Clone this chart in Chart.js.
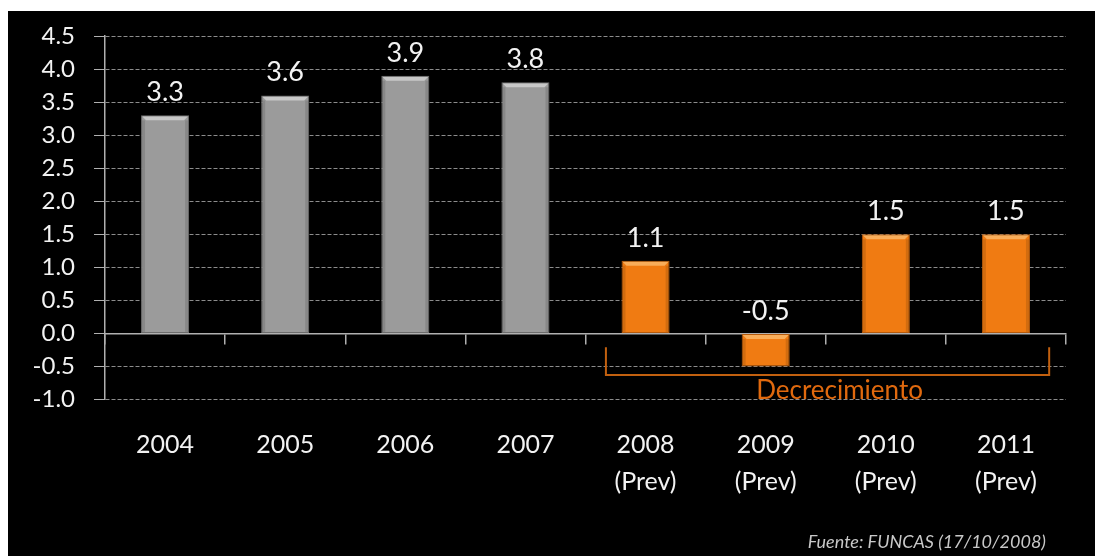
<!DOCTYPE html>
<html><head><meta charset="utf-8">
<script src="https://cdn.jsdelivr.net/npm/chart.js@4"></script>
<style>
html,body{margin:0;padding:0;background:#fff;width:1095px;height:556px;overflow:hidden}
#wrap{position:absolute;left:8px;top:11px;width:1087px;height:545px;background:#000}
#c{position:absolute;left:0;top:0}
#src{position:absolute;right:49px;top:520px;font:italic 18px Lato,sans-serif;line-height:20px;color:#c8c8c8;white-space:nowrap}
</style>
</head><body>
<div id="wrap"><canvas id="c" width="1087" height="545"></canvas><div id="src">Fuente: FUNCAS (17/10/2008)</div></div>
<script>
const categories = [['2004'],['2005'],['2006'],['2007'],['2008','(Prev)'],['2009','(Prev)'],['2010','(Prev)'],['2011','(Prev)']];
const values = [3.3, 3.6, 3.9, 3.8, 1.1, -0.5, 1.5, 1.5];
const forecast = [false, false, false, false, true, true, true, true];
const yMin = -1.0, yMax = 4.5, yStep = 0.5;
const bracketLabel = 'Decrecimiento';
const bracketFrom = 4, bracketTo = 7;

const GREY = '#9b9b9b', ORANGE = '#f07b12';
const TXT = '#f2f2f2', GRID = '#8c8c8c';

const overlay = {
  id: 'overlay',
  afterDatasetsDraw(chart) {
    const ctx = chart.ctx;
    const meta = chart.getDatasetMeta(0);
    const xs = chart.scales.x, ys = chart.scales.y;
    meta.data.forEach((bar, i) => {
      const p = bar.getProps(['x', 'y', 'base', 'width'], true);
      const top = Math.min(p.y, p.base), bottom = Math.max(p.y, p.base);
      const l = p.x - p.width / 2, r = p.x + p.width / 2, b = 5;
      ctx.save();
      ctx.fillStyle = forecast[i] ? 'rgba(255,215,150,0.55)' : 'rgba(255,255,255,0.45)';
      ctx.beginPath(); ctx.moveTo(l + 1, top + 1); ctx.lineTo(r - 1, top + 1); ctx.lineTo(r - b, top + b); ctx.lineTo(l + b, top + b); ctx.closePath(); ctx.fill();
      ctx.fillStyle = 'rgba(0,0,0,0.12)';
      ctx.fillRect(r - 4, top + b, 3, bottom - top - b - 1);
      ctx.fillRect(l + 1, top + b, 3, bottom - top - b - 1);
      ctx.restore();
      ctx.save();
      ctx.fillStyle = TXT; ctx.font = '27px Lato, sans-serif';
      ctx.textAlign = 'center'; ctx.textBaseline = 'alphabetic';
      ctx.fillText(values[i].toFixed(1), p.x, top - 14);
      ctx.restore();
    });
    const cw = xs.getPixelForValue(1) - xs.getPixelForValue(0);
    const bl = xs.getPixelForValue(bracketFrom) - 0.33 * cw;
    const br = xs.getPixelForValue(bracketTo) + 0.36 * cw;
    const by1 = ys.getPixelForValue(-0.21), by2 = ys.getPixelForValue(-0.63);
    ctx.save();
    ctx.strokeStyle = '#c2600f'; ctx.lineWidth = 2;
    ctx.beginPath(); ctx.moveTo(bl, by1); ctx.lineTo(bl, by2); ctx.lineTo(br, by2); ctx.lineTo(br, by1); ctx.stroke();
    ctx.fillStyle = '#e0690e'; ctx.font = '26px Lato, sans-serif';
    ctx.textAlign = 'center'; ctx.textBaseline = 'alphabetic';
    ctx.fillText(bracketLabel, (bl + br) / 2 + 12, ys.getPixelForValue(-0.99));
    ctx.restore();
  }
};

new Chart(document.getElementById('c'), {
  type: 'bar',
  data: {
    labels: categories,
    datasets: [{
      data: values,
      backgroundColor: forecast.map(f => f ? ORANGE : GREY),
      borderColor: forecast.map(f => f ? '#b45a0c' : '#6c6c6c'),
      borderWidth: 1,
      borderSkipped: false,
      barPercentage: 0.4,
      categoryPercentage: 1.0
    }]
  },
  options: {
    responsive: false,
    animation: false,
    events: [],
    layout: { padding: { top: 25, right: 29, left: 0, bottom: 0 } },
    plugins: { legend: { display: false }, tooltip: { enabled: false }, title: { display: false } },
    scales: {
      x: {
        position: 'bottom',
        grid: { display: false, drawTicks: false },
        border: { display: false },
        ticks: { color: TXT, font: { family: 'Lato, sans-serif', size: 25, lineHeight: 1.48 }, padding: 27, maxRotation: 0, autoSkip: false },
        afterFit(s) { s.height = 156.5; }
      },
      x2: {
        type: 'category',
        position: { y: 0 },
        offset: true,
        grid: { display: true, drawOnChartArea: false, drawTicks: true, tickLength: 10, offset: true, color: '#b0b0b0', lineWidth: 1.5 },
        border: { display: true, color: '#b0b0b0', width: 1.5 },
        ticks: { display: false },
        afterFit(s) { s.height = 0; }
      },
      y: {
        min: yMin, max: yMax,
        ticks: { stepSize: yStep, color: TXT, padding: 19, font: { family: 'Lato, sans-serif', size: 24, lineHeight: 0.4 }, callback: v => Number(v).toFixed(1) },
        grid: { color: GRID, lineWidth: 1, tickLength: 11, tickColor: '#b0b0b0', tickBorderDash: [] },
        border: { display: true, color: '#b0b0b0', width: 1.5, dash: [4, 2] },
        afterFit(s) { s.width = 97; }
      }
    }
  },
  plugins: [overlay]
});
</script>
</body></html>
